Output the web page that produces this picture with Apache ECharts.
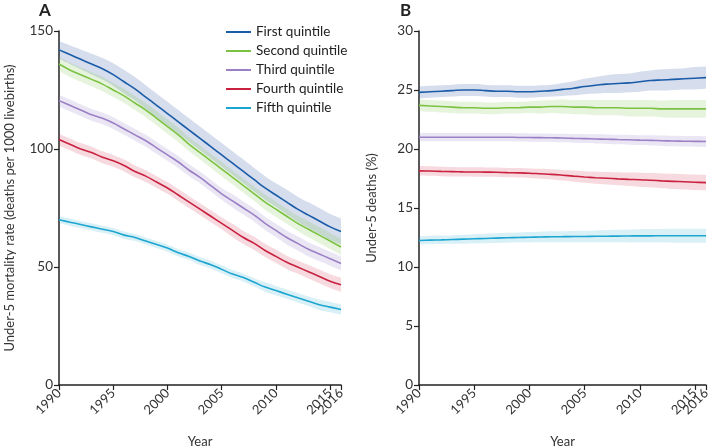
<!DOCTYPE html>
<html>
<head>
<meta charset="utf-8">
<script src="https://cdn.jsdelivr.net/npm/echarts@6/dist/echarts.min.js"></script>
<style>
html,body{margin:0;padding:0;background:#fff;}
#chart{width:715px;height:446px;}
</style>
</head>
<body>
<div id="chart"></div>
<script>
// ---------- DATA ----------
const years = ['1990','1991','1992','1993','1994','1995','1996','1997','1998','1999','2000','2001','2002','2003','2004','2005','2006','2007','2008','2009','2010','2011','2012','2013','2014','2015','2016'];
const tickYears = ['1990','1995','2000','2005','2010','2015','2016'];
const quintileNames = ['First quintile','Second quintile','Third quintile','Fourth quintile','Fifth quintile'];

// Panel A: under-5 mortality rate (deaths per 1000 livebirths)
const rateFirst  = [142,140,138,136,134,131.5,128.5,125.5,122,118.5,115,111.5,108,104.5,101,97.5,94,90.5,87,83.5,80.5,77.5,74.5,72,69.5,67,65];
const rateFirstLo = [138.2,136,133.8,131.6,129.4,126.7,123.5,120.5,117,113.5,110,106.5,103,99.5,96,92.5,89,85.5,82,78.5,75.5,72.3,69.2,66.6,64,61.5,59.4];
const rateFirstHi = [145.8,144,142.2,140.4,138.6,136.3,133.5,130.5,127,123.5,120,116.5,113,109.5,106,102.5,99,95.5,92,88.5,85.5,82.7,79.8,77.4,75,72.5,70.6];

const rateSecond = [136,133.5,131.5,129.5,127.5,125,122.5,119.5,116.5,113,109.5,106,102,98.5,95,91.5,88,84.5,81,77.5,74.5,71.5,68.5,66,63.5,61,58.5];
const rateSecondLo = [133,130.5,128.5,126.5,124.5,122,119.5,116.5,113.5,110,106.5,103,99,95.5,92,88.5,85,81.5,78,74.3,71.3,68.3,65.3,62.6,60.1,57.6,55];
const rateSecondHi = [139,136.5,134.5,132.5,130.5,128,125.5,122.5,119.5,116,112.5,109,105,101.5,98,94.5,91,87.5,84,80.7,77.7,74.7,71.7,69.4,66.9,64.4,62];

const rateThird = [120.5,118.5,116.5,114.5,113,111,108.5,106,103.5,100.5,97.5,94.5,91,88,84.5,81,78,75,72,68.5,65.5,62.5,60,57.5,55.5,53.5,51.5];
const rateThirdLo = [118,116,114,112,110.5,108.5,106,103.5,101,98,95,92,88.5,85.5,82,78.5,75.2,72.2,69.2,65.7,62.7,59.5,57,54.5,52.5,50.5,48.5];
const rateThirdHi = [123,121,119,117,115.5,113.5,111,108.5,106,103,100,97,93.5,90.5,87,83.5,80.8,77.8,74.8,71.3,68.3,65.5,63,60.5,58.5,56.5,54.5];

const rateFourth = [104,102,100,98.5,96.5,95,93,90.5,88.5,86,83.5,80.5,77.5,74.5,71.5,68.5,65.5,62.5,60,57,54.5,52,50,48,46,44,42.5];
const rateFourthLo = [101.5,99.5,97.5,96,94,92.5,90.5,88,86,83.5,81,78,75,72,69,66,62.7,59.7,57.2,54.2,51.7,49.2,47.2,45.1,43.1,41.1,39.5];
const rateFourthHi = [106.5,104.5,102.5,101,99,97.5,95.5,93,91,88.5,86,83,80,77,74,71,68.3,65.3,62.8,59.8,57.3,54.8,52.8,50.9,48.9,46.9,45.5];

const rateFifth = [70,69,68,67,66,65,63.5,62.5,61,59.5,58,56,54.5,52.5,51,49,47,45.5,43.5,41.5,40,38.5,37,35.5,34,33,32];
const rateFifthLo = [68.5,67.5,66.5,65.5,64.5,63.5,62,61,59.5,58,56.5,54.5,53,50.8,49.3,47.3,45.3,43.8,41.8,39.5,38,36.5,35,33.5,31.8,30.8,29.8];
const rateFifthHi = [71.5,70.5,69.5,68.5,67.5,66.5,65,64,62.5,61,59.5,57.5,56,54.2,52.7,50.7,48.7,47.2,45.2,43.5,42,40.5,39,37.5,36.2,35.2,34.2];

// Panel B: share of under-5 deaths (%)
const shareFirst = [24.8,24.85,24.9,24.95,25.0,25.0,24.95,24.9,24.9,24.85,24.85,24.9,24.95,25.05,25.15,25.3,25.4,25.5,25.55,25.6,25.7,25.8,25.85,25.9,25.95,26.0,26.05];
const shareFirstLo = [24.3,24.35,24.4,24.45,24.5,24.5,24.45,24.4,24.4,24.35,24.35,24.4,24.45,24.5,24.55,24.65,24.7,24.75,24.75,24.8,24.85,24.95,24.95,25.0,25.05,25.05,25.1];
const shareFirstHi = [25.3,25.35,25.4,25.45,25.5,25.5,25.45,25.4,25.4,25.35,25.35,25.4,25.45,25.6,25.75,25.95,26.1,26.25,26.35,26.4,26.55,26.65,26.75,26.8,26.85,26.95,27.0];

const shareSecond = [23.7,23.65,23.6,23.55,23.5,23.5,23.45,23.45,23.5,23.5,23.55,23.55,23.6,23.6,23.55,23.55,23.5,23.5,23.5,23.45,23.45,23.45,23.4,23.4,23.4,23.4,23.4];
const shareSecondLo = [23.2,23.15,23.1,23.05,23.0,23.0,22.95,22.95,23.0,23.0,23.05,23.0,23.05,23.0,22.95,22.95,22.85,22.85,22.85,22.75,22.75,22.75,22.7,22.65,22.65,22.65,22.65];
const shareSecondHi = [24.2,24.15,24.1,24.05,24.0,24.0,23.95,23.95,24.0,24.0,24.05,24.1,24.15,24.2,24.15,24.15,24.15,24.15,24.15,24.15,24.15,24.15,24.1,24.15,24.15,24.15,24.15];

const shareThird = [21.0,21.0,21.0,21.0,21.0,21.0,21.0,21.0,21.0,20.98,20.97,20.96,20.95,20.93,20.9,20.88,20.85,20.83,20.8,20.78,20.75,20.73,20.7,20.68,20.66,20.65,20.63];
const shareThirdLo = [20.65,20.65,20.65,20.65,20.65,20.65,20.65,20.65,20.65,20.63,20.62,20.61,20.6,20.57,20.53,20.5,20.46,20.43,20.4,20.37,20.33,20.3,20.26,20.24,20.21,20.2,20.18];
const shareThirdHi = [21.35,21.35,21.35,21.35,21.35,21.35,21.35,21.35,21.35,21.33,21.32,21.31,21.3,21.29,21.27,21.26,21.24,21.23,21.2,21.19,21.17,21.16,21.14,21.12,21.11,21.1,21.08];

const shareFourth = [18.15,18.13,18.1,18.08,18.06,18.05,18.04,18.03,18.0,17.98,17.95,17.9,17.85,17.78,17.7,17.63,17.57,17.52,17.47,17.43,17.4,17.35,17.3,17.26,17.22,17.18,17.15];
const shareFourthLo = [17.75,17.73,17.7,17.68,17.66,17.65,17.64,17.63,17.6,17.58,17.55,17.48,17.42,17.33,17.23,17.14,17.06,16.99,16.92,16.86,16.81,16.74,16.68,16.62,16.57,16.52,16.5];
const shareFourthHi = [18.55,18.53,18.5,18.48,18.46,18.45,18.44,18.43,18.4,18.38,18.35,18.32,18.28,18.23,18.17,18.12,18.08,18.05,18.02,18.0,17.99,17.96,17.92,17.9,17.87,17.84,17.8];

const shareFifth = [12.25,12.28,12.3,12.33,12.36,12.39,12.42,12.45,12.48,12.5,12.52,12.54,12.56,12.57,12.58,12.59,12.6,12.61,12.62,12.63,12.64,12.64,12.65,12.65,12.65,12.65,12.65];
const shareFifthLo = [11.9,11.92,11.94,11.96,11.98,12.0,12.02,12.04,12.06,12.07,12.08,12.09,12.1,12.1,12.1,12.1,12.1,12.09,12.09,12.08,12.08,12.07,12.07,12.06,12.06,12.05,12.05];
const shareFifthHi = [12.6,12.64,12.66,12.7,12.74,12.78,12.82,12.86,12.9,12.93,12.96,12.99,13.02,13.04,13.06,13.08,13.1,13.13,13.15,13.18,13.2,13.21,13.23,13.24,13.25,13.25,13.25];

// ---------- STYLE ----------
const lineColors = ['#1a5ca8','#7cc242','#9b80c6','#c9213f','#1ca5d1'];
const bandColors = ['rgba(70,100,175,0.22)','rgba(124,194,66,0.18)','rgba(155,128,198,0.2)','rgba(201,33,63,0.17)','rgba(28,165,209,0.17)'];
const FONT = 'Lato';

const panelA = [
  [rateFirst, rateFirstLo, rateFirstHi],
  [rateSecond, rateSecondLo, rateSecondHi],
  [rateThird, rateThirdLo, rateThirdHi],
  [rateFourth, rateFourthLo, rateFourthHi],
  [rateFifth, rateFifthLo, rateFifthHi]
];
const panelB = [
  [shareFirst, shareFirstLo, shareFirstHi],
  [shareSecond, shareSecondLo, shareSecondHi],
  [shareThird, shareThirdLo, shareThirdHi],
  [shareFourth, shareFourthLo, shareFourthHi],
  [shareFifth, shareFifthLo, shareFifthHi]
];

const series = [];
[panelA, panelB].forEach((panel, g) => {
  panel.forEach((arr, i) => {
    const [mean, lo, hi] = arr;
    const stackId = 'band' + g + '_' + i;
    series.push({
      type: 'line', name: stackId + 'lo', xAxisIndex: g, yAxisIndex: g,
      data: lo, stack: stackId, symbol: 'none', smooth: 0.4, silent: true,
      lineStyle: { opacity: 0 }, z: 1
    });
    series.push({
      type: 'line', name: stackId + 'w', xAxisIndex: g, yAxisIndex: g,
      data: hi.map((h, k) => +(h - lo[k]).toFixed(3)), stack: stackId, symbol: 'none', smooth: 0.4, silent: true,
      lineStyle: { opacity: 0 }, areaStyle: { color: bandColors[i], opacity: 1 }, z: 1
    });
  });
});
[panelA, panelB].forEach((panel, g) => {
  panel.forEach((arr, i) => {
    series.push({
      type: 'line', name: quintileNames[i], xAxisIndex: g, yAxisIndex: g,
      data: arr[0], symbol: 'none', smooth: 0.4,
      lineStyle: { color: lineColors[i], width: 1.6 }, itemStyle: { color: lineColors[i] }, z: 3
    });
  });
});

const lastYear = years[years.length - 1];
const isTick = (idx, val) => tickYears.indexOf(val) >= 0;
const isMainLabel = (idx, val) => tickYears.indexOf(val) >= 0 && val !== lastYear;
const isLastLabel = (idx, val) => val === lastYear;
const labelStyle = { rotate: 45, fontFamily: FONT, fontSize: 13, color: '#333', margin: 6, hideOverlap: false };

function xAxis(g) {
  return {
    type: 'category', gridIndex: g, data: years, boundaryGap: false, position: 'bottom',
    name: 'Year', nameLocation: 'middle', nameGap: 50,
    nameTextStyle: { fontFamily: FONT, fontSize: 13, color: '#333' },
    axisLine: { lineStyle: { color: '#222', width: 1.5 } },
    axisTick: { show: true, length: 5, lineStyle: { color: '#222', width: 1.2 }, interval: isTick },
    axisLabel: Object.assign({}, labelStyle, { interval: isMainLabel }),
    splitLine: { show: false }
  };
}
function xAxisLast(g) {
  return {
    type: 'category', gridIndex: g, data: years, boundaryGap: false, position: 'bottom', offset: 0,
    axisLine: { show: false }, axisTick: { show: false },
    axisLabel: Object.assign({}, labelStyle, { interval: isLastLabel, showMaxLabel: true }),
    splitLine: { show: false }
  };
}
function yAxis(g, max, interval, name, gap) {
  return {
    type: 'value', gridIndex: g, min: 0, max: max, interval: interval,
    name: name, nameLocation: 'middle', nameGap: gap,
    nameTextStyle: { fontFamily: FONT, fontSize: 13, color: '#333' },
    axisLine: { show: true, lineStyle: { color: '#222', width: 1.5 } },
    axisTick: { show: true, length: 5, lineStyle: { color: '#222', width: 1.2 } },
    axisLabel: { fontFamily: FONT, fontSize: 13.5, color: '#333', margin: 6 },
    splitLine: { show: false }
  };
}

const option = {
  animation: false,
  backgroundColor: '#fff',
  textStyle: { fontFamily: FONT },
  grid: [
    { left: 59, right: 374, top: 31, bottom: 61, outerBoundsMode: 'none', containLabel: false },
    { left: 419, right: 9, top: 31, bottom: 61, outerBoundsMode: 'none', containLabel: false }
  ],
  xAxis: [xAxis(0), xAxis(1), xAxisLast(0), xAxisLast(1)],
  yAxis: [
    yAxis(0, 150, 50, 'Under-5 mortality rate (deaths per 1000 livebirths)', 43),
    yAxis(1, 30, 5, 'Under-5 deaths (%)', 41)
  ],
  title: [
    { text: 'A', left: 34, top: -3, textStyle: { fontFamily: FONT, fontSize: 17, fontWeight: 'bold', color: '#222' } },
    { text: 'B', left: 395, top: -3, textStyle: { fontFamily: FONT, fontSize: 17, fontWeight: 'bold', color: '#222' } }
  ],
  legend: {
    data: quintileNames, orient: 'vertical', left: 221, top: 20,
    icon: 'rect', itemWidth: 25, itemHeight: 2, itemGap: 5,
    textStyle: { fontFamily: FONT, fontSize: 13.5, color: '#222' }
  },
  series: series
};

const chart = echarts.init(document.getElementById('chart'), null, { renderer: 'canvas' });
chart.setOption(option);
</script>
</body>
</html>
